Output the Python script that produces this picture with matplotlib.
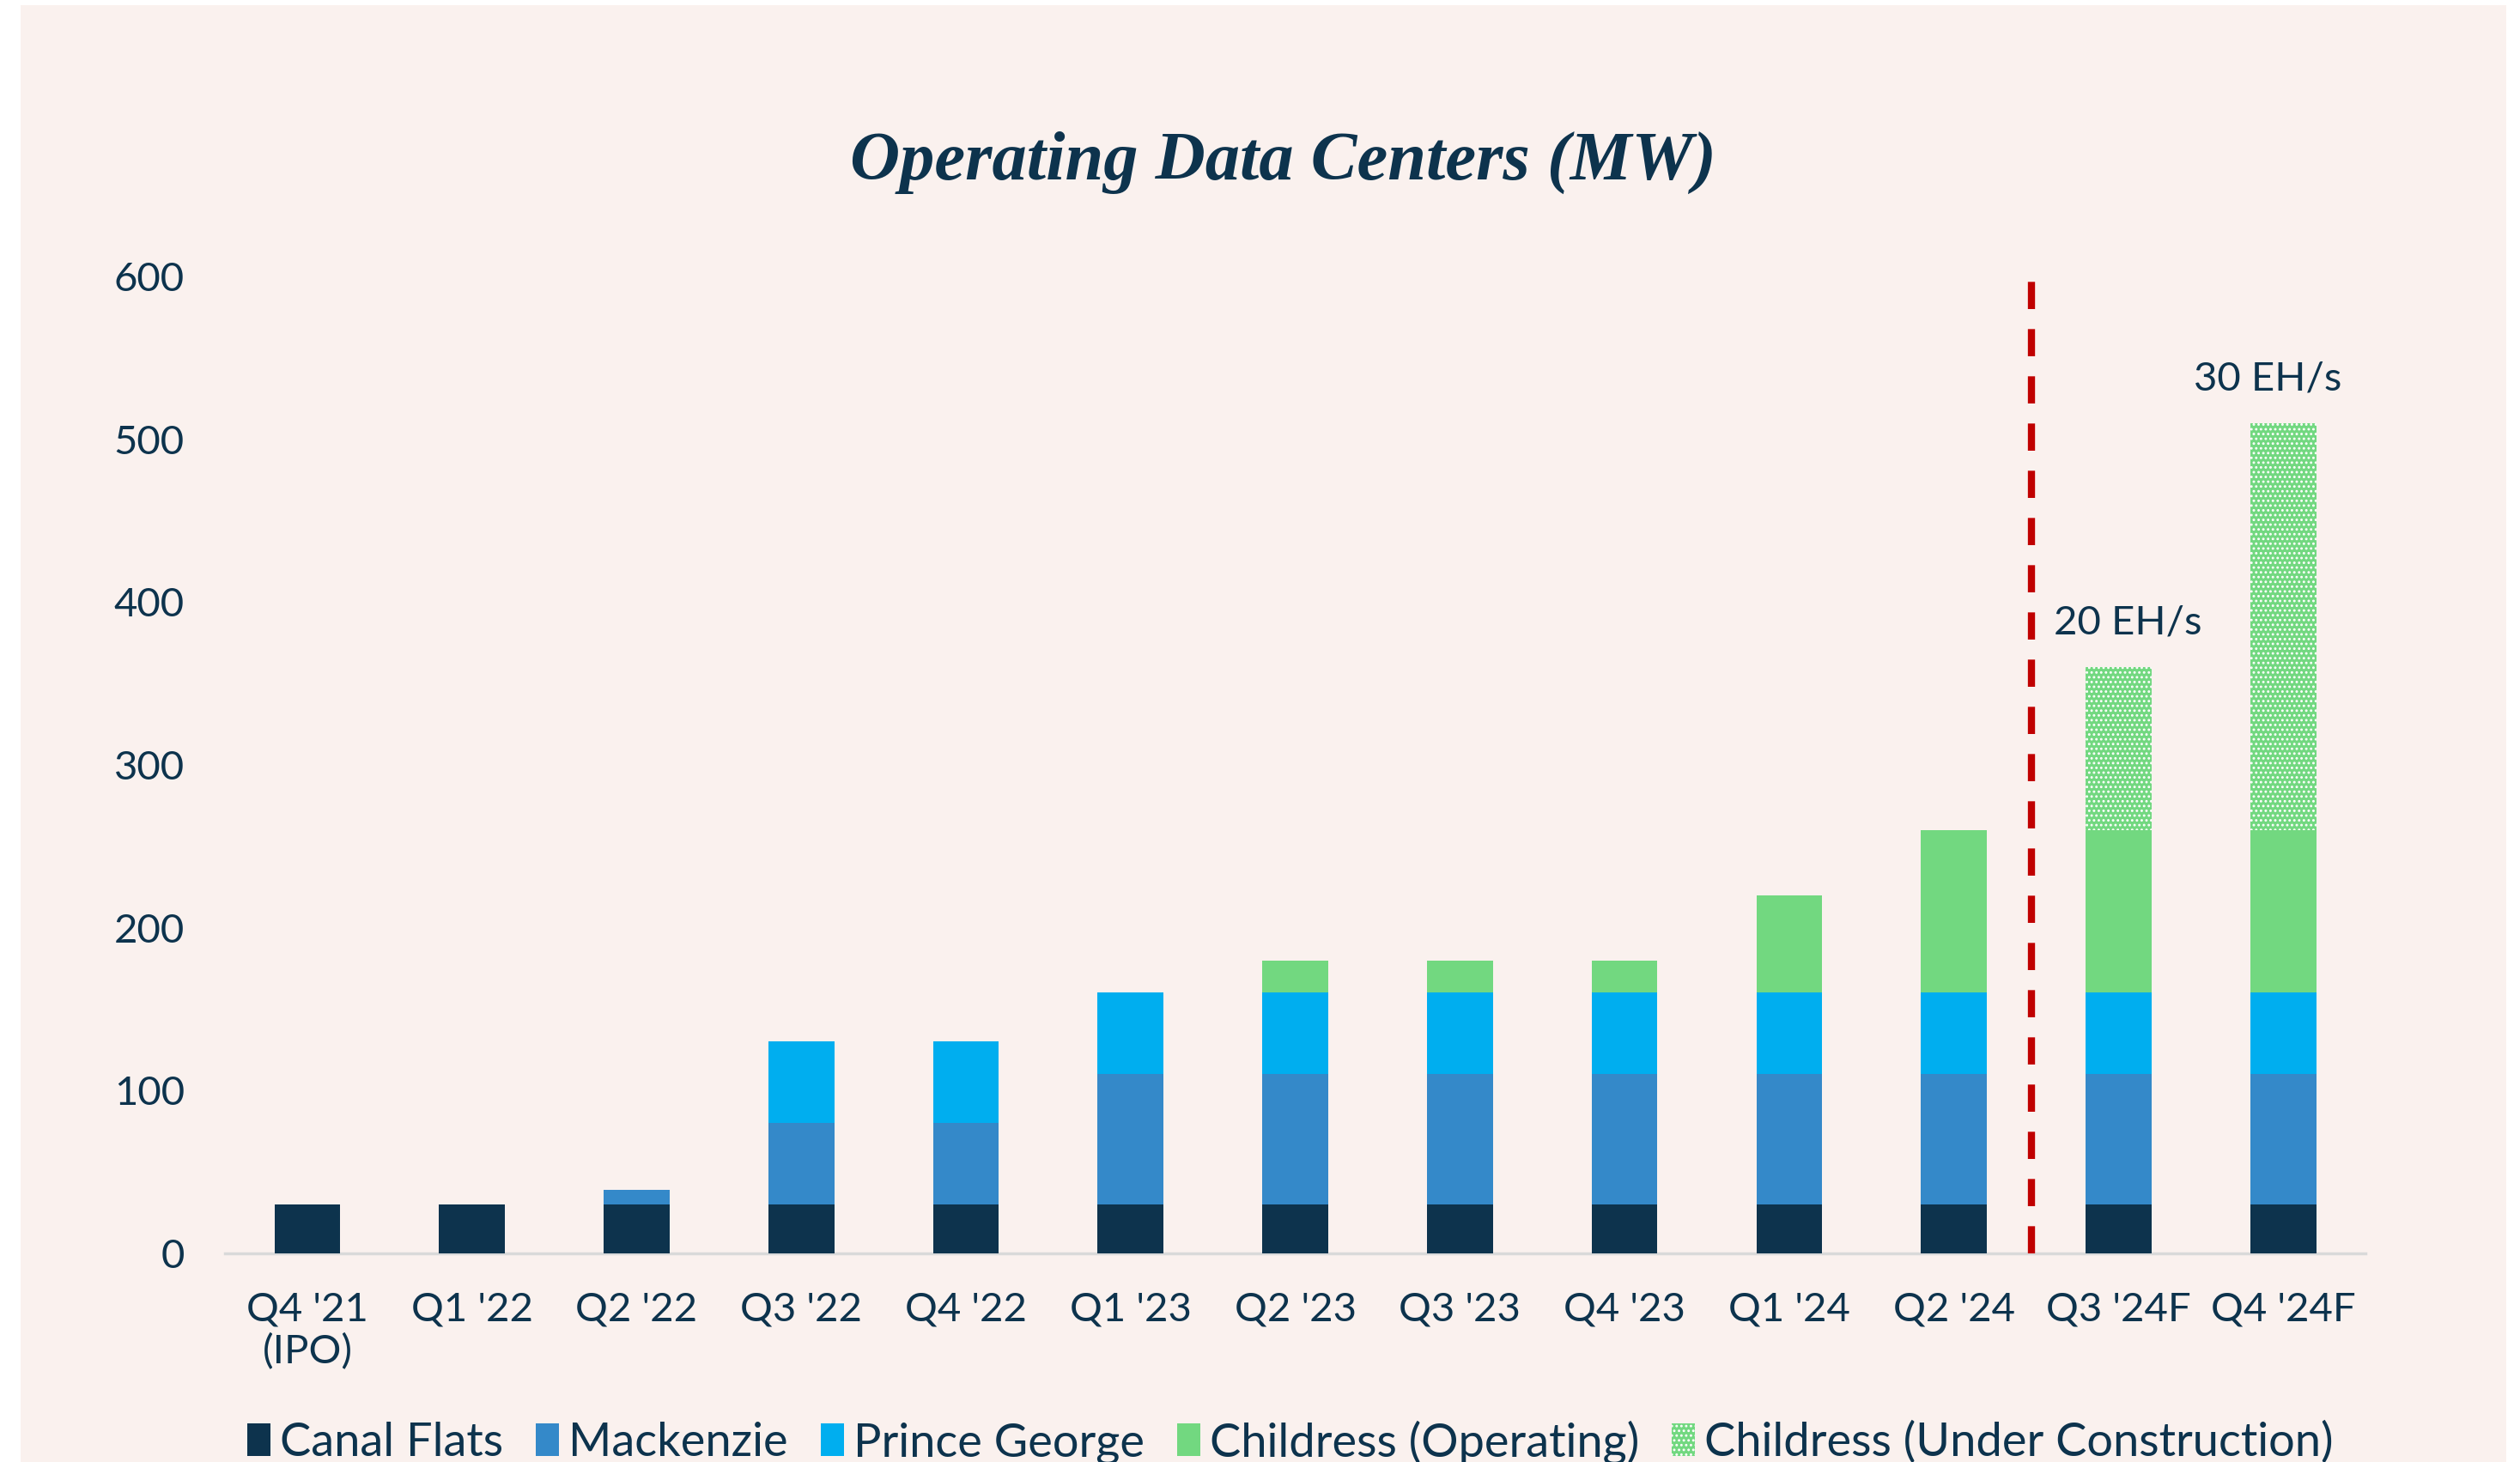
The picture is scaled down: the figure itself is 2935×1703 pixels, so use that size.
import matplotlib.pyplot as plt
import numpy as np

# Operating data centers (MW) by quarter
quarters = ["Q4 '21\n(IPO)", "Q1 '22", "Q2 '22", "Q3 '22", "Q4 '22", "Q1 '23", "Q2 '23",
            "Q3 '23", "Q4 '23", "Q1 '24", "Q2 '24", "Q3 '24F", "Q4 '24F"]
canal_flats = [30, 30, 30, 30, 30, 30, 30, 30, 30, 30, 30, 30, 30]
mackenzie = [0, 0, 9, 50, 50, 80, 80, 80, 80, 80, 80, 80, 80]
prince_george = [0, 0, 0, 50, 50, 50, 50, 50, 50, 50, 50, 50, 50]
childress_op = [0, 0, 0, 0, 0, 0, 20, 20, 20, 60, 100, 100, 100]
childress_uc = [0, 0, 0, 0, 0, 0, 0, 0, 0, 0, 0, 100, 250]
hashrate_labels = {11: "20 EH/s", 12: "30 EH/s"}

bg = '#FAF1EE'
navy = '#0D334D'
colors = ['#0D334D', '#3489C9', '#00AEEF', '#72D880']
font = 'Lato'

plt.rcParams['hatch.color'] = 'white'
plt.rcParams['hatch.linewidth'] = 1.3

fig = plt.figure(figsize=(29.35, 17.03), dpi=100)
fig.patch.set_facecolor('white')
# pink panel behind everything
fig.patches.append(plt.Rectangle((24 / 2935, 0), 1 - 40 / 2935, 1 - 6 / 1703,
                                 transform=fig.transFigure, facecolor=bg,
                                 edgecolor='none', zorder=-10))

ax = fig.add_axes([0.0893, 0.1427, 0.8494, 0.6683])
ax.set_facecolor('none')

x = np.arange(len(quarters))
w = 0.40
series = [canal_flats, mackenzie, prince_george, childress_op]
names = ['Canal Flats', 'Mackenzie', 'Prince George', 'Childress (Operating)']
bottom = np.zeros(len(x))
for vals, c, n in zip(series, colors, names):
    vals = np.array(vals, dtype=float)
    ax.bar(x, vals, w, bottom=bottom, color=c, label=n, zorder=3)
    bottom += vals
uc = np.array(childress_uc, dtype=float)
ax.bar(x, uc, w, bottom=bottom, color=colors[3], hatch='...', edgecolor='white',
       linewidth=0, label='Childress (Under Construction)', zorder=3)
totals = bottom + uc

# the labels sit slightly off-centre in the original
nudge = {11: 8, 12: -13}
for i, txt in hashrate_labels.items():
    ax.annotate(txt, (x[i], totals[i]), xytext=(nudge[i], 22), textcoords='offset points',
                ha='center', va='bottom', fontsize=34, color=navy, family=font)

ax.plot([10.47, 10.47], [0, 600], color='#C00000', lw=6, dashes=(3.8, 2.8),
        solid_capstyle='butt', zorder=4)

ax.set_xlim(-0.5, 12.5)
ax.set_ylim(0, 600)
ax.set_yticks(np.arange(0, 601, 100))
ax.set_xticks(x)
ax.set_xticklabels(quarters)
ax.tick_params(axis='both', length=0, labelsize=34, labelcolor=navy)
ax.tick_params(axis='y', pad=34)
ax.tick_params(axis='x', pad=32)
for lab in ax.get_xticklabels() + ax.get_yticklabels():
    lab.set_family(font)
for s in ['top', 'right', 'left']:
    ax.spines[s].set_visible(False)
ax.spines['bottom'].set_color('#D9D9D9')
ax.spines['bottom'].set_linewidth(2.5)

fig.text(0.509, 0.889, 'Operating Data Centers (MW)', ha='center', va='center',
         fontsize=58, style='italic', fontweight='bold', family='Liberation Serif',
         color=navy)

h, l = ax.get_legend_handles_labels()
fig.legend(h, l, loc='center', bbox_to_anchor=(0.512, 0.0135), ncol=5, frameon=False,
           prop={'family': font, 'size': 39}, handlelength=0.5, handleheight=0.7,
           handletextpad=0.2, columnspacing=0.7, labelcolor=navy)

fig.savefig('out.png', dpi=100, facecolor=fig.get_facecolor())
